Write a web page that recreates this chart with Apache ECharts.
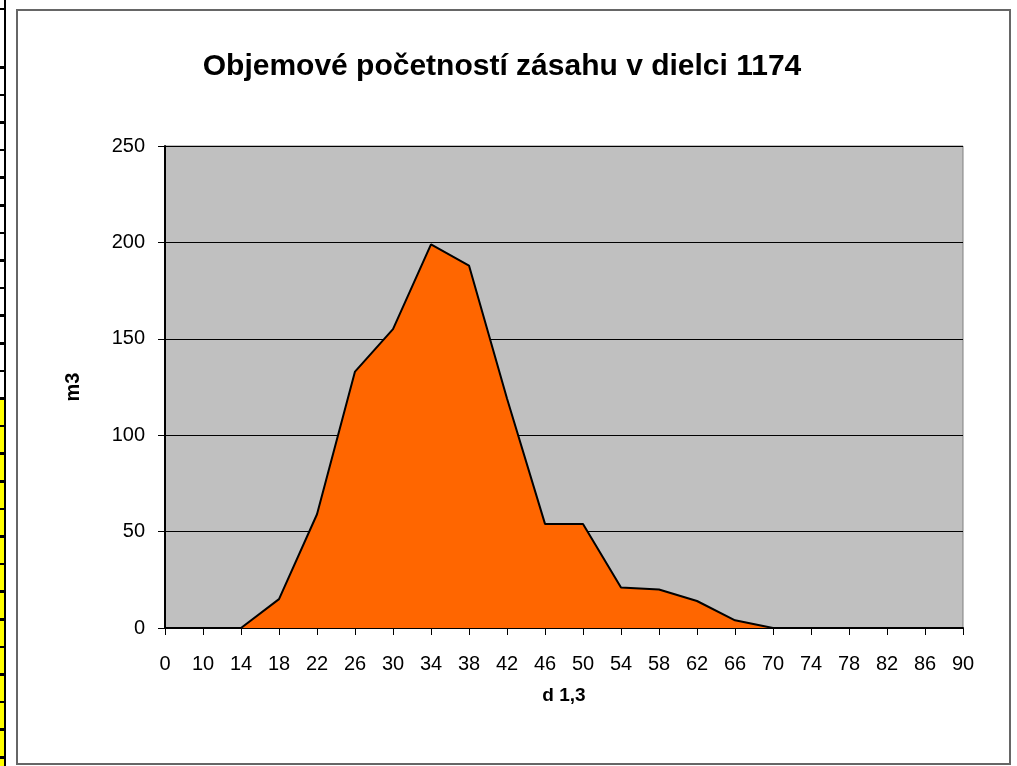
<!DOCTYPE html>
<html>
<head>
<meta charset="utf-8">
<title>Objemové početností zásahu v dielci 1174</title>
<script src="https://cdn.jsdelivr.net/npm/echarts@6/dist/echarts.min.js"></script>
<style>
  html, body {
    margin: 0;
    padding: 0;
    background: #fff;
  }
  #sheet {
    position: absolute;
    left: 0;
    top: 0;
    width: 4px;
    height: 766px;
    border-right: 2px solid #000;
    background:
      linear-gradient(to bottom, #000 0, #000 2px) 0 8px / 4px 2px no-repeat,
      repeating-linear-gradient(to bottom, transparent 0, transparent 25px, #000 25px, #000 27.6px) 0 41px / 4px 730px no-repeat,
      linear-gradient(to bottom, #fff 0, #fff 397px, #ffff00 397px);
  }
  #main {
    position: absolute;
    left: 0;
    top: 0;
    width: 1017px;
    height: 766px;
  }
</style>
</head>
<body>
<div id="sheet"></div>
<div id="main"></div>
<script>
// d 1,3 - hrubkove stupne
const categories = ['0', '10', '14', '18', '22', '26', '30', '34', '38', '42', '46',
  '50', '54', '58', '62', '66', '70', '74', '78', '82', '86', '90']
// m3
const volumes = [null, null, 0, 15, 59, 133, 155, 199, 188, 119, 54,
  54, 21, 20, 14, 4, 0, 0, 0, 0, 0, 0]
const yTicks = [0, 50, 100, 150, 200, 250]

const font = 'Liberation Sans, Arial, sans-serif'
const myChart = echarts.init(document.getElementById('main'))
myChart.setOption({
  animation: false,
  title: {
    text: 'Objemové početností zásahu v dielci 1174',
    left: 497,
    top: 47,
    textAlign: 'center',
    textStyle: {
      fontFamily: font,
      fontSize: 30,
      fontWeight: 'bold',
      color: '#000'
    }
  },
  graphic: [{
    type: 'rect',
    shape: { x: 17, y: 10, width: 993, height: 754 },
    style: { fill: 'none', stroke: '#666', lineWidth: 2 },
    silent: true
  }],
  // vnutorna plocha grafu
  grid: {
    left: 165,
    right: 54,
    top: 146,
    bottom: 138,
    show: true,
    backgroundColor: '#c0c0c0',
    borderColor: '#808080',
    borderWidth: 1
  },
  xAxis: {
    type: 'category',
    boundaryGap: false,
    data: categories,
    name: 'd 1,3',
    nameLocation: 'middle',
    nameGap: 58,
    nameTextStyle: {
      fontFamily: font,
      fontSize: 19,
      fontWeight: 'bold',
      color: '#000'
    },
    axisLine: { lineStyle: { color: '#000', width: 2 } },
    axisTick: { length: 7, lineStyle: { color: '#000' } },
    axisLabel: {
      interval: 0,
      margin: 26,
      fontFamily: font,
      fontSize: 20,
      color: '#000'
    },
    splitLine: { show: false }
  },
  yAxis: {
    type: 'value',
    min: yTicks[0],
    max: yTicks[yTicks.length - 1],
    interval: 50,
    name: 'm3',
    nameLocation: 'middle',
    nameGap: 82,
    nameRotate: 90,
    nameTextStyle: {
      fontFamily: font,
      fontSize: 20,
      fontWeight: 'bold',
      color: '#000'
    },
    axisLine: { show: true, lineStyle: { color: '#000', width: 2 } },
    axisTick: { show: true, length: 7, lineStyle: { color: '#000' } },
    axisLabel: {
      margin: 20,
      fontFamily: font,
      fontSize: 20,
      color: '#000'
    },
    splitLine: { show: true, lineStyle: { color: '#000', width: 1 } }
  },
  series: [{
    name: 'm3',
    type: 'line',
    data: volumes,
    symbol: 'none',
    lineStyle: { color: '#000', width: 2 },
    areaStyle: { color: '#ff6600', opacity: 1 },
    z: 3
  }]
})
</script>
</body>
</html>
